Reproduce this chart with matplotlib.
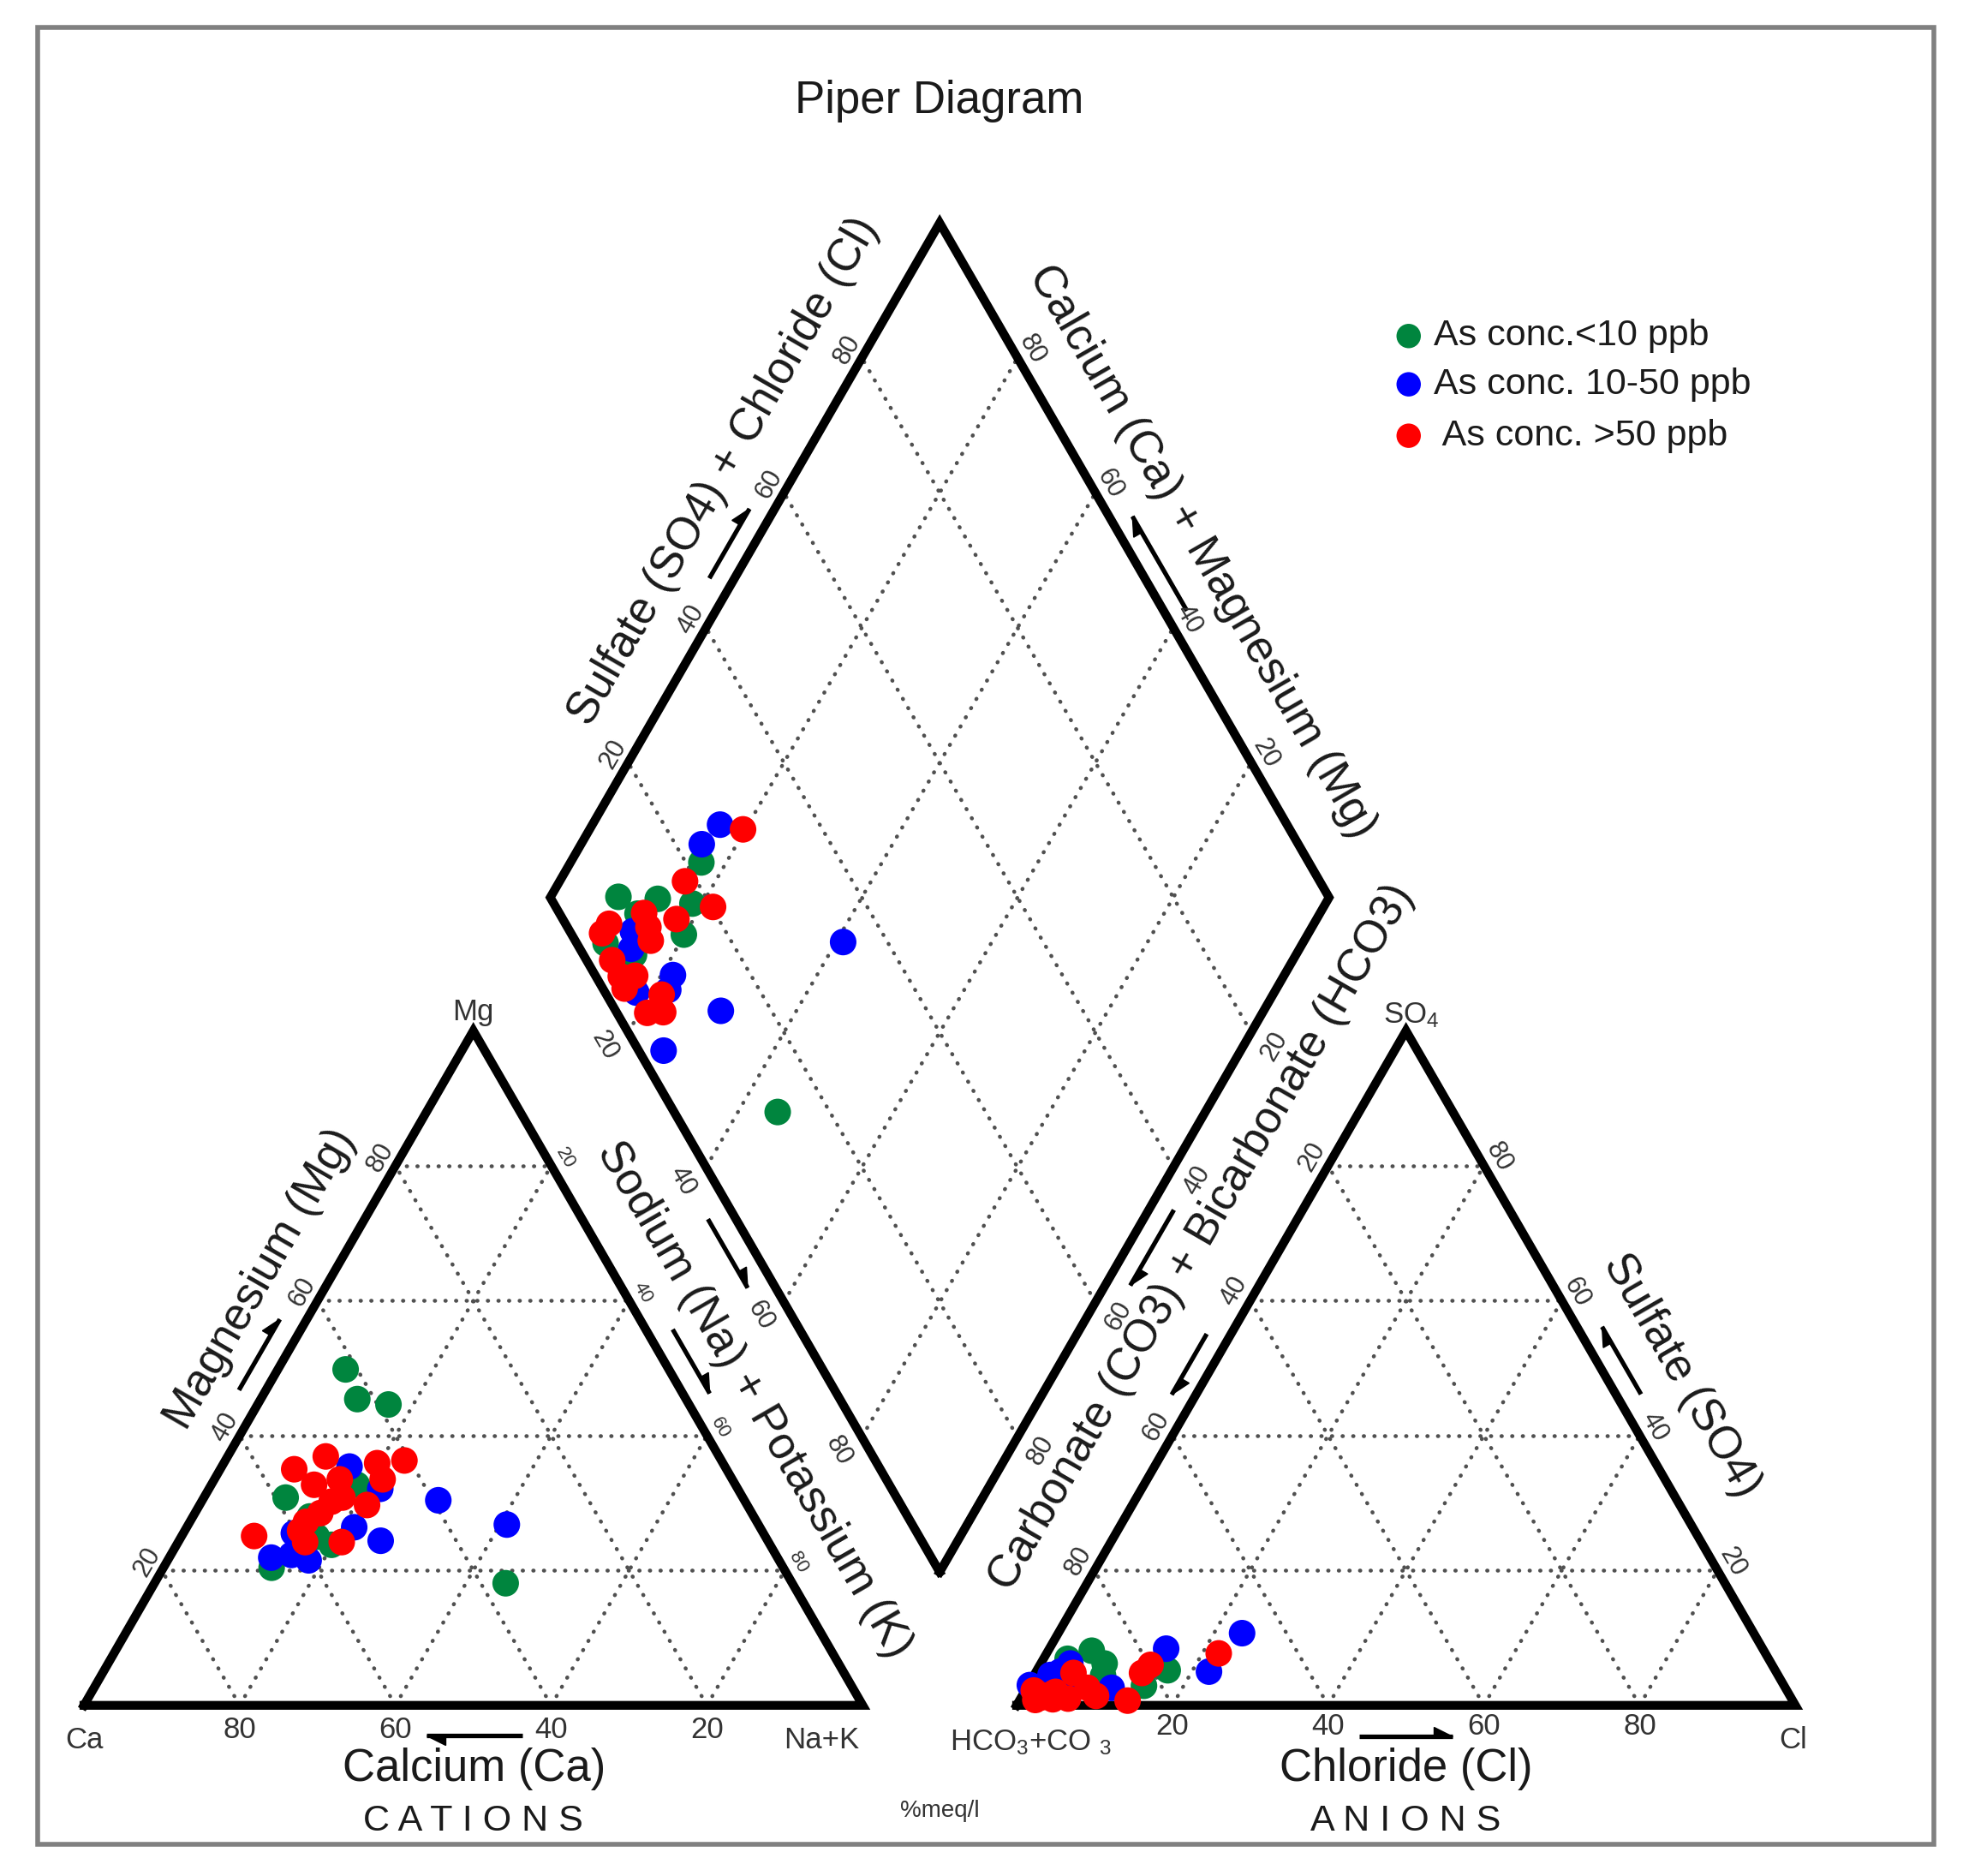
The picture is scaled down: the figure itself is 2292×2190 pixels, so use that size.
import numpy as np
import matplotlib
matplotlib.use('Agg')
import matplotlib.pyplot as plt
from matplotlib.patches import Rectangle

plt.rcParams['font.family'] = ['Liberation Sans', 'DejaVu Sans']
plt.rcParams['mathtext.default'] = 'regular'

# sample chemistry, % meq/l  (Mg, Na+K for cations, SO4, Cl for anions)
green_mg = [49.8, 45.4, 30.8, 44.6, 32.7, 20.4, 23.8, 18.1, 25.0, 28.0]
green_nak = [8.7, 12.4, 10.5, 16.8, 18.7, 13.9, 19.9, 45.1, 17.4, 15.0]
green_so4 = [4.0, 6.9, 2.5, 5.2, 2.9, 8.1, 6.2, 4.4, 2.0, 3.0]
green_cl = [4.8, 3.1, 1.2, 16.8, 14.9, 5.6, 8.2, 8.9, 2.0, 3.5]

blue_mg = [26.8, 30.4, 24.4, 35.4, 22.3, 21.9, 25.5, 32.1, 26.4, 21.5]
blue_nak = [40.9, 30.3, 25.9, 16.4, 15.5, 13.1, 14.2, 22.0, 21.5, 18.1]
blue_so4 = [10.7, 2.6, 3.0, 5.0, 8.4, 5.0, 4.5, 3.5, 6.2, 2.5]
blue_cl = [23.6, 10.9, 0.2, 22.2, 15.0, 3.1, 2.1, 4.8, 3.8, 1.5]

red_mg = [35.9, 33.5, 33.5, 30.8, 32.7, 35.0, 28.5, 36.9, 30.2, 27.2,
          29.7, 36.3, 24.2, 25.1, 25.9, 24.2]
red_nak = [19.7, 21.6, 16.1, 17.8, 13.2, 9.5, 16.1, 12.6, 16.7, 14.9,
           21.5, 23.0, 21.0, 9.3, 14.8, 16.3]
red_so4 = [7.7, 6.0, 4.8, 0.7, 1.4, 1.8, 4.8, 2.2, 0.9, 1.4,
           1.0, 2.0, 1.2, 1.5, 2.6, 0.8]
red_cl = [22.1, 14.2, 13.7, 13.9, 9.5, 3.8, 4.9, 1.1, 4.2, 1.8,
          6.1, 4.0, 2.7, 2.5, 7.8, 2.0]

groups = [
    ('As conc.<10 ppb', '#00853e', green_mg, green_nak, green_so4, green_cl),
    ('As conc. 10-50 ppb', '#0000ff', blue_mg, blue_nak, blue_so4, blue_cl),
    (' As conc. >50 ppb', '#ff0000', red_mg, red_nak, red_so4, red_cl),
]
ticks = [20, 40, 60, 80]

S3 = np.sqrt(3) / 2
GAP = 0.1976          # gap between the two triangles (side = 1)
GRAY = '#333333'


def cat_xy(mg, nak):
    return nak + mg / 2, mg * S3


def an_xy(so4, cl):
    return 1 + GAP + cl + so4 / 2, so4 * S3


def dia_xy(camg, so4cl):
    x = 1 + GAP / 2 + 0.5 * (so4cl - camg)
    y = GAP * S3 + S3 * (camg + so4cl)
    return x, y


fig = plt.figure(figsize=(22.92, 21.90), dpi=100)
ax = fig.add_axes([0, 0, 1, 1])
ax.set_xlim(-0.1078, 2.4128)
ax.set_ylim(-0.2191, 2.1894)
ax.axis('off')

fig.patches.append(Rectangle((0.0191, 0.0169), 0.966, 0.9684, transform=fig.transFigure,
                             fill=False, edgecolor='#808080', lw=4))

dot = dict(color='#505050', lw=3.3, linestyle=(0, (0.1, 2.6)), dash_capstyle='round')

# grid lines
for t in ticks:
    c = t / 100
    for f in (cat_xy, an_xy):
        p = [f(c, 0), f(c, 1 - c)]
        ax.plot([p[0][0], p[1][0]], [p[0][1], p[1][1]], **dot)
        p = [f(0, c), f(1 - c, c)]
        ax.plot([p[0][0], p[1][0]], [p[0][1], p[1][1]], **dot)
        p = [f(0, 1 - c), f(1 - c, 0)]
        ax.plot([p[0][0], p[1][0]], [p[0][1], p[1][1]], **dot)
    p = [dia_xy(c, 0), dia_xy(c, 1)]
    ax.plot([p[0][0], p[1][0]], [p[0][1], p[1][1]], **dot)
    p = [dia_xy(0, c), dia_xy(1, c)]
    ax.plot([p[0][0], p[1][0]], [p[0][1], p[1][1]], **dot)

# outlines
outline = dict(color='black', lw=7.4, solid_joinstyle='miter')
for f in (cat_xy, an_xy):
    pts = [f(0, 0), f(0, 1), f(1, 0), f(0, 0)]
    ax.plot([p[0] for p in pts], [p[1] for p in pts], **outline)
pts = [dia_xy(0, 0), dia_xy(1, 0), dia_xy(1, 1), dia_xy(0, 1), dia_xy(0, 0)]
ax.plot([p[0] for p in pts], [p[1] for p in pts], **outline)


# tick numbers
def num(p, n, d, txt, rot, size):
    ax.text(p[0] + n[0] * d, p[1] + n[1] * d, txt, rotation=rot, rotation_mode='anchor',
            ha='center', va='center', fontsize=size, color=GRAY)


for t in ticks:
    c = t / 100
    num(cat_xy(0, 1 - c), (0, -1), 0.032, str(t), 0, 25)
    num(an_xy(0, c), (0, -1), 0.027, str(t), 0, 25)
    num(cat_xy(c, 0), (-S3, 0.5), 0.022, str(t), 60, 22)
    num(cat_xy(1 - c, c), (S3, 0.5), 0.02, str(t), -60, 16)
    num(an_xy(1 - c, 0), (-S3, 0.5), 0.024, str(t), 60, 22)
    num(an_xy(c, 1 - c), (S3, 0.5), 0.022, str(t), -60, 22)
    num(dia_xy(1, c), (-S3, 0.5), 0.022, str(t), 60, 22)
    num(dia_xy(c, 1), (S3, 0.5), 0.022, str(t), -60, 22)
    num(dia_xy(1 - c, 0), (-S3, -0.5), 0.035, str(t), -60, 22)
    num(dia_xy(0, 1 - c), (S3, -0.5), 0.035, str(t), 60, 22)

# corner labels
corner = dict(ha='center', va='center', fontsize=25, color=GRAY)
ax.text(0.0, -0.045, 'Ca', **corner)
ax.text(0.947, -0.045, 'Na+K', **corner)
ax.text(0.4992, 0.89, 'Mg', **corner)
ax.text(1.704, 0.886, 'SO$_4$', **corner)
ax.text(1.216, -0.048, 'HCO$_3$+CO $_3$', **corner)
ax.text(2.195, -0.045, 'Cl', **corner)


# axis titles along edges
def edge_title(p0, p1, n, t, d, txt, rot):
    x = p0[0] + (p1[0] - p0[0]) * t + n[0] * d
    y = p0[1] + (p1[1] - p0[1]) * t + n[1] * d
    ax.text(x, y, txt, rotation=rot, rotation_mode='anchor', ha='center', va='center',
            fontsize=38, color='#1a1a1a')


def half_arrow(p0, p1, n, t0, t1, d):
    x0 = p0[0] + (p1[0] - p0[0]) * t0 + n[0] * d
    y0 = p0[1] + (p1[1] - p0[1]) * t0 + n[1] * d
    x1 = p0[0] + (p1[0] - p0[0]) * t1 + n[0] * d
    y1 = p0[1] + (p1[1] - p0[1]) * t1 + n[1] * d
    ax.plot([x0, x1], [y0, y1], color='black', lw=3.8, solid_capstyle='butt')
    ux, uy = (x1 - x0), (y1 - y0)
    ln = np.hypot(ux, uy)
    ux, uy = ux / ln, uy / ln
    hx, hy = x1 - ux * 0.024, y1 - uy * 0.024
    bx, by = hx - uy * 0.012, hy + ux * 0.012
    ax.fill([x1, hx, bx], [y1, hy, by], color='black', lw=1)


C0, C1, CT = cat_xy(0, 0), cat_xy(0, 1), cat_xy(1, 0)
A0, A1, AT = an_xy(0, 0), an_xy(0, 1), an_xy(1, 0)
DB, DL, DT, DR = dia_xy(0, 0), dia_xy(1, 0), dia_xy(1, 1), dia_xy(0, 1)

edge_title(C0, CT, (-S3, 0.5), 0.587, 0.077, 'Magnesium (Mg)', 60)
half_arrow(C0, CT, (-S3, 0.5), 0.45, 0.555, 0.03)

edge_title(C1, CT, (S3, 0.5), 0.41, 0.075, 'Sodium (Na) + Potassium (K)', -60)
half_arrow(C1, CT, (S3, 0.5), 0.54, 0.445, 0.03)
half_arrow(C1, CT, (S3, 0.5), 0.64, 0.538, 0.14)

edge_title(DL, DT, (-S3, 0.5), 0.585, 0.081, 'Sulfate (SO4) + Chloride (Cl)', 60)
half_arrow(DL, DT, (-S3, 0.5), 0.457, 0.56, 0.028)

edge_title(DR, DT, (S3, 0.5), 0.466, 0.080, 'Calcium (Ca) + Magnesium (Mg)', -60)
half_arrow(DR, DT, (S3, 0.5), 0.41, 0.55, 0.026)

edge_title(DB, DR, (S3, -0.5), 0.54, 0.077, 'Carbonate (CO3) + Bicarbonate (HCO3)', 60)
half_arrow(DB, DR, (S3, -0.5), 0.553, 0.441, 0.028)
half_arrow(A0, AT, (-S3, 0.5), 0.535, 0.445, 0.027)

edge_title(A1, AT, (S3, 0.5), 0.44, 0.085, 'Sulfate (SO4)', -60)
half_arrow(A1, AT, (S3, 0.5), 0.445, 0.545, 0.028)

ax.text(0.5008, -0.082, 'Calcium (Ca)', ha='center', va='center', fontsize=38, color='#1a1a1a')
half_arrow((0, 0), (1, 0), (0, -1), 0.563, 0.44, 0.039)
ax.text(1.6976, -0.082, 'Chloride (Cl)', ha='center', va='center', fontsize=38, color='#1a1a1a')
half_arrow((0, 0), (1, 0), (0, -1), 1.637, 1.757, 0.04)

ax.text(0.5, -0.149, 'C A T I O N S', ha='center', va='center', fontsize=31, color='#1a1a1a')
ax.text(1.6976, -0.149, 'A N I O N S', ha='center', va='center', fontsize=31, color='#1a1a1a')
ax.text(1.099, -0.136, '%meq/l', ha='center', va='center', fontsize=20, color=GRAY)

ax.text(1.0988, 2.06, 'Piper Diagram', ha='center', va='center', fontsize=38, color='#1a1a1a')

# sample points in all three fields
for label, col, mg, nak, so4, cl in groups:
    mg = np.array(mg) / 100
    nak = np.array(nak) / 100
    so4 = np.array(so4) / 100
    cl = np.array(cl) / 100
    x, y = cat_xy(mg, nak)
    ax.scatter(x, y, s=500, c=col, edgecolors='none', zorder=5)
    x, y = an_xy(so4, cl)
    ax.scatter(x, y, s=500, c=col, edgecolors='none', zorder=5)
    x, y = dia_xy(1 - nak, so4 + cl)
    ax.scatter(x, y, s=500, c=col, edgecolors='none', zorder=5)

# legend
leg_y = [1.758, 1.696, 1.630]
for (label, col, *_), ly in zip(groups, leg_y):
    ax.scatter([1.701], [ly], s=420, c=col, edgecolors='none')
    ax.text(1.733, ly, label, ha='left', va='center', fontsize=31, color='#1a1a1a')

fig.savefig('out.png', dpi=100)
